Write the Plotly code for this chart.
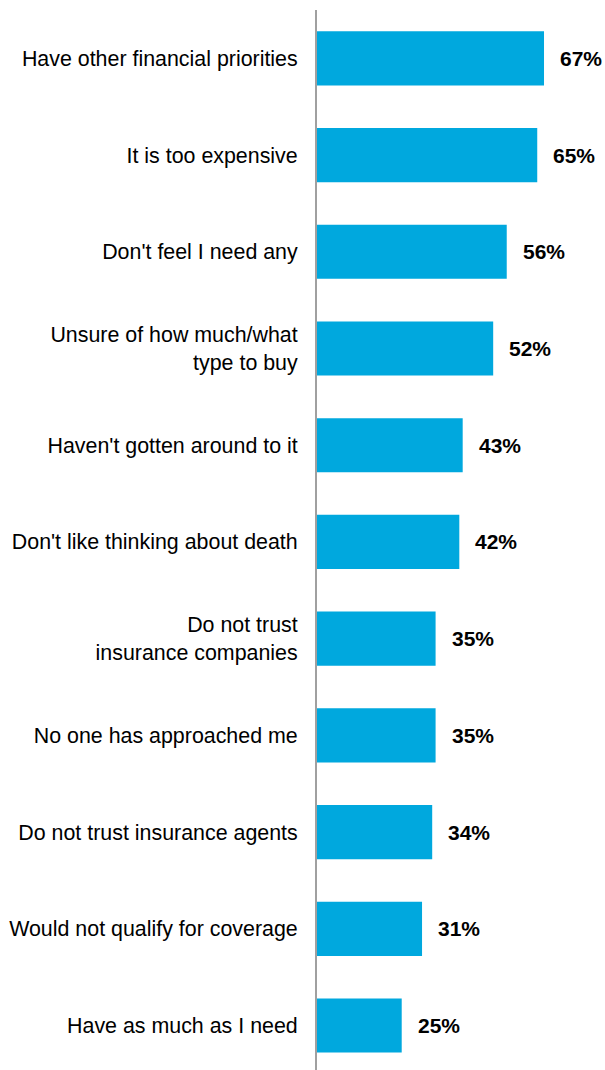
import plotly.graph_objects as go

# Reasons for not owning (more) life insurance, share of respondents
categories = [
    "Have other financial priorities",
    "It is too expensive",
    "Don't feel I need any",
    "Unsure of how much/what<br>type to buy",
    "Haven't gotten around to it",
    "Don't like thinking about death",
    "Do not trust<br>insurance companies",
    "No one has approached me",
    "Do not trust insurance agents",
    "Would not qualify for coverage",
    "Have as much as I need",
]
values = [67, 65, 56, 52, 43, 42, 35, 35, 34, 31, 25]
value_labels = [f"{v}%" for v in values]

BAR_COLOR = "#00a8de"
FONT = "Liberation Sans, Arial, sans-serif"

fig = go.Figure(
    go.Bar(
        x=values,
        y=categories,
        orientation="h",
        marker=dict(color=BAR_COLOR, line=dict(width=0)),
        hoverinfo="skip",
    )
)

# Bold percentage labels just past each bar end
for cat, val, lab in zip(categories, values, value_labels):
    fig.add_annotation(
        x=val, y=cat, text=f"<b>{lab}</b>",
        xref="x", yref="y", xanchor="left", yanchor="middle",
        xshift=14, showarrow=False,
        font=dict(family=FONT, size=21, color="#000000"),
    )

fig.update_layout(
    width=605, height=1070,
    margin=dict(l=317, r=0, t=10, b=0),
    paper_bgcolor="white", plot_bgcolor="white",
    bargap=0.44,
    showlegend=False,
    font=dict(family=FONT, size=21, color="#000000"),
)
fig.update_xaxes(
    range=[0, 85.0], showgrid=False, zeroline=False,
    showticklabels=False, showline=False, ticks="",
)
fig.update_yaxes(
    categoryorder="array", categoryarray=categories,
    range=[10.46, -0.5],
    showgrid=False, zeroline=False,
    showline=True, linecolor="#a0a0a0", linewidth=2,
    ticks="", ticklabelstandoff=13,
    tickfont=dict(family=FONT, size=21.4, color="#000000"),
)

fig.write_html("out.html")
